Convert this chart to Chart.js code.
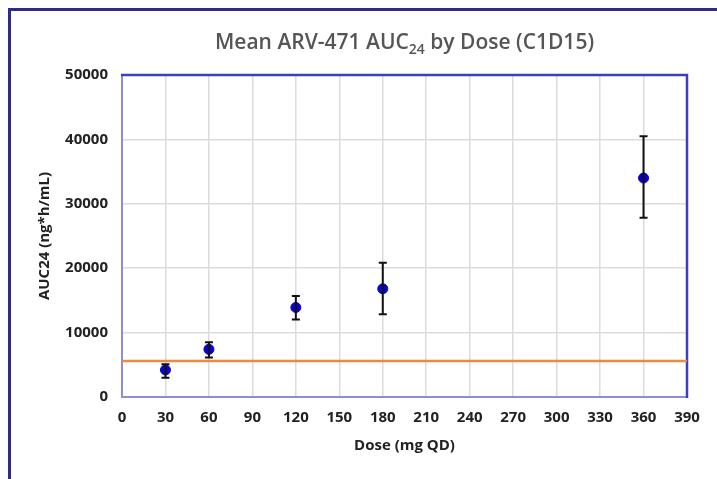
<!DOCTYPE html>
<html>
<head>
<meta charset="utf-8">
<script src="https://cdn.jsdelivr.net/npm/chart.js@4.4.1/dist/chart.umd.min.js"></script>
<style>
  html, body { margin: 0; padding: 0; background: #fff; }
  #wrap { position: relative; width: 717px; height: 479px; overflow: hidden; }
  #frame { position: absolute; left: 8px; top: 8px; width: 760px; height: 520px;
           border-top: 3px solid #2e2b8c; border-left: 3px solid #2e2b8c; }
  canvas { position: absolute; left: 0; top: 0; }
</style>
</head>
<body>
<div id="wrap">
  <div id="frame"></div>
  <canvas id="c" width="717" height="479"></canvas>
</div>
<script>
// valores
const doses = [30, 60, 120, 180, 360];
const meanAuc = [4200, 7400, 13900, 16800, 34000];
const errHigh = [5100, 8500, 15700, 20850, 40500];
const errLow = [3000, 6150, 12050, 12850, 27850];
const refLevel = 5600;
const xTicks = [0, 30, 60, 90, 120, 150, 180, 210, 240, 270, 300, 330, 360, 390];
const yTicks = [0, 10000, 20000, 30000, 40000, 50000];

const FONT = '"Open Sans", sans-serif';

const errorBars = {
  id: 'errorBars',
  afterDatasetsDraw(chart) {
    const { ctx, scales: { x, y } } = chart;
    ctx.save();
    ctx.strokeStyle = '#111';
    ctx.lineWidth = 2;
    doses.forEach((d, i) => {
      const px = x.getPixelForValue(d);
      const top = y.getPixelForValue(errHigh[i]);
      const bot = y.getPixelForValue(errLow[i]);
      ctx.beginPath();
      ctx.moveTo(px, top); ctx.lineTo(px, bot);
      ctx.moveTo(px - 4, top); ctx.lineTo(px + 4, top);
      ctx.moveTo(px - 4, bot); ctx.lineTo(px + 4, bot);
      ctx.stroke();
    });
    ctx.restore();
  }
};

const plotBorder = {
  id: 'plotBorder',
  beforeDatasetsDraw(chart) {
    const { ctx, chartArea: a } = chart;
    ctx.save();
    ctx.lineWidth = 2;
    ctx.strokeStyle = '#8c8cd8';
    ctx.beginPath();
    ctx.moveTo(a.left, a.top); ctx.lineTo(a.left, a.bottom); ctx.lineTo(a.right, a.bottom);
    ctx.stroke();
    ctx.strokeStyle = '#3d3dc4';
    ctx.lineWidth = 2.5;
    ctx.beginPath();
    ctx.moveTo(a.left - 1, a.top); ctx.lineTo(a.right, a.top); ctx.lineTo(a.right, a.bottom + 1);
    ctx.stroke();
    ctx.restore();
  }
};

// título con subíndice
const subTitle = {
  id: 'subTitle',
  afterDraw(chart) {
    const { ctx, chartArea: a } = chart;
    const parts = [['Mean ARV-471 AUC', 21, 0], ['24', 14, 5], [' by Dose (C1D15)', 21, 0]];
    ctx.save();
    ctx.fillStyle = '#555';
    ctx.textBaseline = 'alphabetic';
    let w = 0;
    parts.forEach(p => { ctx.font = '600 ' + p[1] + 'px ' + FONT; w += ctx.measureText(p[0]).width; });
    let xx = (a.left + a.right) / 2 - w / 2;
    parts.forEach(p => {
      ctx.font = '600 ' + p[1] + 'px ' + FONT;
      ctx.fillText(p[0], xx, 49 + p[2]);
      xx += ctx.measureText(p[0]).width;
    });
    ctx.restore();
  }
};

new Chart(document.getElementById('c'), {
  type: 'scatter',
  data: {
    datasets: [
      {
        label: 'Mean',
        data: doses.map((d, i) => ({ x: d, y: meanAuc[i] })),
        backgroundColor: '#0a00c8',
        borderColor: '#0a00c8',
        pointRadius: 5,
        order: 0
      },
      {
        label: 'Ref',
        type: 'line',
        data: [{ x: xTicks[0], y: refLevel }, { x: xTicks[xTicks.length - 1], y: refLevel }],
        borderColor: '#f0883e',
        borderWidth: 2.5,
        pointRadius: 0,
        order: 1
      }
    ]
  },
  options: {
    responsive: false,
    animation: false,
    layout: { padding: { left: 32, right: 30, top: 75, bottom: 20 } },
    plugins: { legend: { display: false }, tooltip: { enabled: false }, title: { display: false } },
    scales: {
      x: {
        type: 'linear',
        min: 0, max: 390,
        afterBuildTicks: s => { s.ticks = xTicks.map(v => ({ value: v })); },
        afterFit: s => { s.height = 62; },
        grid: { color: '#dcdcdc', lineWidth: 1.5, drawTicks: false },
        border: { display: false },
        ticks: { color: '#222', padding: 12, font: { family: FONT, size: 15, weight: 'bold' } },
        title: { display: true, text: 'Dose (mg QD)', color: '#222', padding: 4,
                 font: { family: FONT, size: 15, weight: 'bold' } }
      },
      y: {
        min: 0, max: 50000,
        afterBuildTicks: s => { s.ticks = yTicks.map(v => ({ value: v })); },
        afterFit: s => { s.width = 90; },
        grid: { color: '#dcdcdc', lineWidth: 1.5, drawTicks: false },
        border: { display: false },
        ticks: { color: '#222', padding: 14, font: { family: FONT, size: 15, weight: 'bold' },
                 callback: v => String(v) },
        title: { display: true, text: 'AUC24 (ng*h/mL)', color: '#222', padding: 4,
                 font: { family: FONT, size: 15, weight: 'bold' } }
      }
    }
  },
  plugins: [plotBorder, errorBars, subTitle]
});
</script>
</body>
</html>
